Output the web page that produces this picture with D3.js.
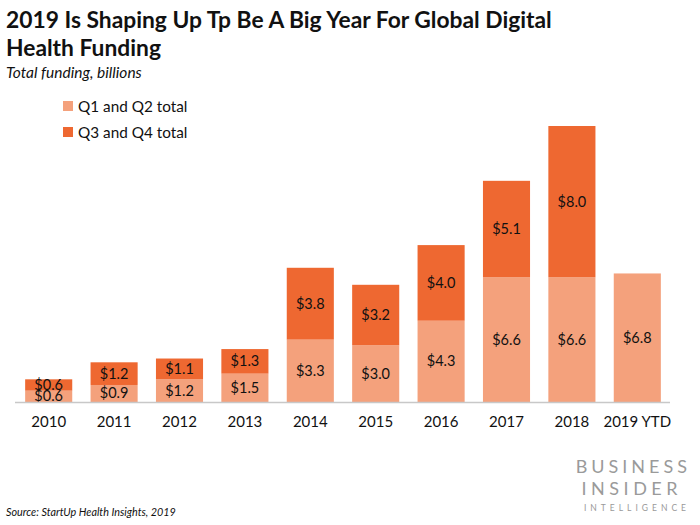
<!DOCTYPE html>
<html>
  <head>
    <meta charset="utf-8"/>
    <title>Global digital health funding</title>
    <style type="text/css">
body {
  margin: 0;
  background: #fff;
  font-family: Lato, "Open Sans", sans-serif;
}
    </style>
  </head>
  <body>
    <div id="chart"></div>
    <script src="https://d3js.org/d3.v7.min.js"></script>
    <script>
    const years = ["2010", "2011", "2012", "2013", "2014", "2015", "2016", "2017", "2018", "2019 YTD"];
    const firstHalf = [0.6, 0.9, 1.2, 1.5, 3.3, 3.0, 4.3, 6.6, 6.6, 6.8];
    const secondHalf = [0.6, 1.2, 1.1, 1.3, 3.8, 3.2, 4.0, 5.1, 8.0, null];
    const seriesNames = ["Q1 and Q2 total", "Q3 and Q4 total"];
    const colors = ["#F4A17C", "#EE6831"];

    const W = 700, H = 525;
    const svg = d3.select("#chart").append("svg")
        .attr("width", W)
        .attr("height", H);

    // title
    const title = svg.append("text")
        .attr("x", 6)
        .style("font-size", "22.8px")
        .style("font-weight", "bold")
        .style("fill", "#111");
    title.append("tspan").attr("x", 6).attr("y", 28)
        .text("2019 Is Shaping Up Tp Be A Big Year For Global Digital");
    title.append("tspan").attr("x", 6).attr("y", 56)
        .text("Health Funding");

    svg.append("text")
        .attr("x", 6).attr("y", 78)
        .style("font-size", "15.5px")
        .style("font-style", "italic")
        .style("fill", "#111")
        .text("Total funding, billions");

    // legend
    seriesNames.forEach((name, i) => {
      const y = 107 + i * 26;
      svg.append("rect")
          .attr("x", 63).attr("y", y - 6)
          .attr("width", 10).attr("height", 10)
          .attr("fill", colors[i]);
      svg.append("text")
          .attr("x", 78).attr("y", y + 5)
          .style("font-size", "15.3px")
          .style("fill", "#111")
          .text(name);
    });

    // scales
    const x = d3.scaleBand()
        .domain(years)
        .range([16, 670])
        .paddingInner(0.28)
        .paddingOuter(0.14);

    const y = d3.scaleLinear()
        .domain([0, 14.6])
        .range([402, 126]);

    const stacked = years.map((yr, i) => ({
      year: yr,
      segs: [
        {v: firstHalf[i], y0: 0, y1: firstHalf[i], c: colors[0]},
        secondHalf[i] == null ? null :
          {v: secondHalf[i], y0: firstHalf[i], y1: firstHalf[i] + secondHalf[i], c: colors[1]}
      ].filter(s => s)
    }));

    const g = svg.append("g");
    const groups = g.selectAll(".bar")
        .data(stacked)
        .enter()
        .append("g")
        .attr("transform", d => "translate(" + x(d.year) + ",0)");

    groups.selectAll("rect")
        .data(d => d.segs)
        .enter()
        .append("rect")
        .attr("x", 0)
        .attr("width", x.bandwidth())
        .attr("y", s => y(s.y1))
        .attr("height", s => y(s.y0) - y(s.y1))
        .attr("fill", s => s.c);

    groups.selectAll("text")
        .data(d => d.segs)
        .enter()
        .append("text")
        .attr("x", x.bandwidth() / 2)
        .attr("y", s => (y(s.y0) + y(s.y1)) / 2 + 5)
        .attr("text-anchor", "middle")
        .style("font-size", "14.5px")
        .style("fill", "#111")
        .text(s => "$" + s.v.toFixed(1));

    // baseline axis
    const axis = svg.append("g")
        .attr("transform", "translate(0,402)")
        .call(d3.axisBottom(x).tickSize(0).tickPadding(14));
    axis.select(".domain")
        .attr("d", "M15,0.5H670")
        .attr("stroke", "#c8c8c8")
        .attr("stroke-width", 1.5);
    axis.selectAll("text")
        .style("font-family", "Lato, 'Open Sans', sans-serif")
        .style("font-size", "15px")
        .style("fill", "#111");

    // logo
    const logo = svg.append("g").style("fill", "#9a9a9a");
    logo.append("text")
        .attr("x", 691).attr("y", 473)
        .attr("text-anchor", "end")
        .style("font-size", "18px")
        .style("letter-spacing", "4px")
        .text("BUSINESS");
    logo.append("text")
        .attr("x", 682).attr("y", 495)
        .attr("text-anchor", "end")
        .style("font-size", "18px")
        .style("letter-spacing", "4.5px")
        .text("INSIDER");
    logo.append("text")
        .attr("x", 690).attr("y", 511)
        .attr("text-anchor", "end")
        .style("font-size", "8.5px")
        .style("letter-spacing", "4px")
        .text("INTELLIGENCE");

    svg.append("text")
        .attr("x", 6).attr("y", 516)
        .style("font-size", "10.8px")
        .style("font-style", "italic")
        .style("fill", "#111")
        .text("Source: StartUp Health Insights, 2019");
    </script>
  </body>
</html>
